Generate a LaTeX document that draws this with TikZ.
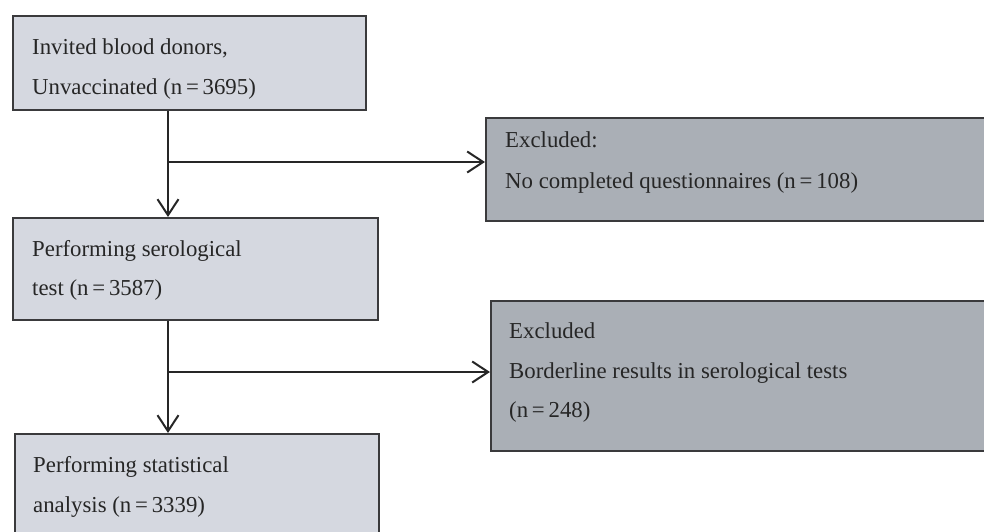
\documentclass[tikz,border=0pt]{standalone}
\usepackage{fontspec}
\setmainfont{Liberation Serif}
\usetikzlibrary{arrows.meta}
\definecolor{boxlight}{HTML}{D5D8E0}
\definecolor{boxdark}{HTML}{AAAFB6}
\definecolor{edgegray}{HTML}{3A3A3C}

\begin{document}
\begin{tikzpicture}[x=1pt,y=-1pt,
    every node/.style={font=\fontsize{22.8}{40}\selectfont, text=black!85, inner sep=0pt},
    lightbox/.style={draw=edgegray, line width=1.8pt, fill=boxlight, anchor=north west},
    darkbox/.style={draw=edgegray, line width=1.8pt, fill=boxdark, anchor=north west},
    arr/.style={line width=2pt, draw=black!85, -{Straight Barb[length=16pt,width=21pt,line width=2pt]}}]
        \useasboundingbox (0,0) rectangle (984,532);
        \clip (0,0) rectangle (984,532);
        \fill[white] (0,0) rectangle (984,532);
        % boxes
        \node[lightbox, minimum width=353pt, minimum height=94pt] (b1) at (12,15) {};
        \node[darkbox, minimum width=510pt, minimum height=103pt] (b2) at (485,117) {};
        \node[lightbox, minimum width=365pt, minimum height=102pt] (b3) at (12,217) {};
        \node[darkbox, minimum width=505pt, minimum height=150pt] (b4) at (490,300) {};
        \node[lightbox, minimum width=364pt, minimum height=110pt] (b5) at (14,433) {};
        % texts
        \node[anchor=base west] (t1a) at (32,55) {Invited blood donors,};
        \node[anchor=base west] (t1b) at (32,95) {Unvaccinated (n\,=\,3695)};
        \node[anchor=base west] (t2a) at (505,147) {Excluded:};
        \node[anchor=base west] (t2b) at (505,188) {No completed questionnaires (n\,=\,108)};
        \node[anchor=base west] (t3a) at (32,256) {Performing serological};
        \node[anchor=base west] (t3b) at (32,295) {test (n\,=\,3587)};
        \node[anchor=base west] (t4a) at (509,338) {Excluded};
        \node[anchor=base west] (t4b) at (509,378) {Borderline results in serological tests};
        \node[anchor=base west] (t4c) at (509,417) {(n\,=\,248)};
        \node[anchor=base west] (t5a) at (33,472) {Performing statistical};
        \node[anchor=base west] (t5b) at (33,512) {analysis (n\,=\,3339)};
        % connectors
        \coordinate (j1) at (168,162);
        \coordinate (j2) at (168,372);
        \draw[arr] (b1.south -| j1) -- (b3.north -| j1);
        \draw[arr] (j1) -- (j1 -| b2.west);
        \draw[arr] (b3.south -| j2) -- (b5.north -| j2);
        \draw[arr] (j2) -- (j2 -| b4.west);
    \end{tikzpicture}
\end{document}
